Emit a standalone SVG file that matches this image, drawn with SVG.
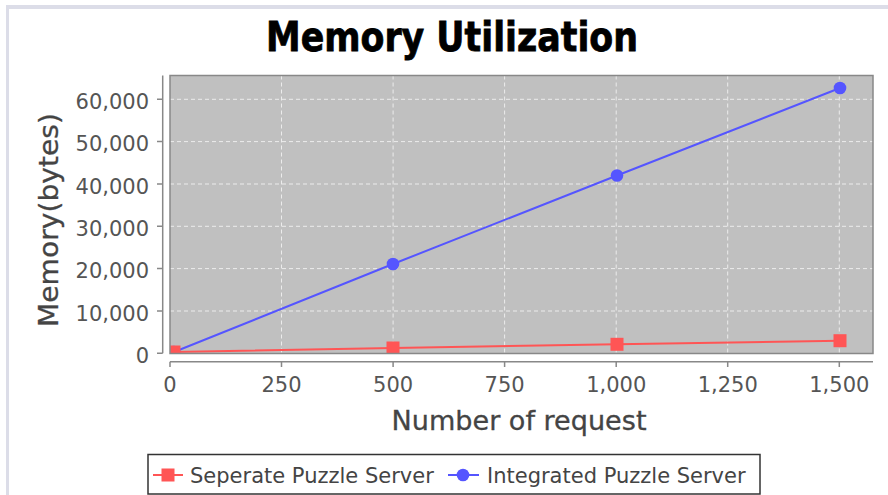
<svg xmlns="http://www.w3.org/2000/svg" width="888" height="495" viewBox="0 0 888 495">
  <style>
    .tick { font-family: "DejaVu Sans", Verdana, sans-serif; font-size: 21px; fill: #555555; }
    .axlabel { font-family: "DejaVu Sans", Verdana, sans-serif; font-size: 26px; fill: #444444; stroke: #444444; stroke-width: 0.3; }
    .legend { font-family: "DejaVu Sans", Verdana, sans-serif; font-size: 21px; fill: #444444; }
    .grid line { stroke: #ffffff; stroke-opacity: 0.7; stroke-width: 1; stroke-dasharray: 4 3; }
    .axis { stroke: #888888; stroke-width: 1.5; fill: none; }
    .blue { stroke: #5555ff; stroke-width: 2; fill: none; }
    .red { stroke: #ff5555; stroke-width: 2; fill: none; }
  </style>
  <defs>
    <clipPath id="plotClip">
      <rect x="170" y="75.5" width="703" height="278"/>
    </clipPath>
    <circle id="dot" r="6.3" fill="#5555ff"/>
    <rect id="sq" x="-6.5" y="-6.5" width="13" height="13" fill="#ff5555"/>
  </defs>

  <!-- page background and frame -->
  <rect x="0" y="0" width="888" height="495" fill="#ffffff"/>
  <rect x="6" y="5" width="882" height="4" fill="#dcdde8"/>
  <rect x="6" y="5" width="3" height="490" fill="#dcdde8"/>

  <!-- title -->
  <text id="title" x="266" y="50.5" font-family="DejaVu Sans, Verdana, sans-serif" font-weight="bold" font-size="40" textLength="372" lengthAdjust="spacingAndGlyphs" fill="#000000" stroke="#000000" stroke-width="0.8">Memory Utilization</text>

  <!-- plot area -->
  <g id="plot">
    <rect x="170" y="75.5" width="703" height="278" fill="#c0c0c0"/>
    <g class="grid">
      <line x1="281.5" y1="75.5" x2="281.5" y2="353.3"/>
      <line x1="393.1" y1="75.5" x2="393.1" y2="353.3"/>
      <line x1="504.6" y1="75.5" x2="504.6" y2="353.3"/>
      <line x1="616.2" y1="75.5" x2="616.2" y2="353.3"/>
      <line x1="727.7" y1="75.5" x2="727.7" y2="353.3"/>
      <line x1="839.3" y1="75.5" x2="839.3" y2="353.3"/>
      <line x1="170" y1="311" x2="873" y2="311"/>
      <line x1="170" y1="268.6" x2="873" y2="268.6"/>
      <line x1="170" y1="226.3" x2="873" y2="226.3"/>
      <line x1="170" y1="184" x2="873" y2="184"/>
      <line x1="170" y1="141.6" x2="873" y2="141.6"/>
      <line x1="170" y1="99.3" x2="873" y2="99.3"/>
    </g>

    <g id="series-integrated" clip-path="url(#plotClip)">
      <polyline class="blue" points="174,352 393,264 617,175.5 840,88"/>
      <use href="#dot" x="174" y="352"/>
      <use href="#dot" x="393" y="264"/>
      <use href="#dot" x="617" y="175.5"/>
      <use href="#dot" x="840" y="88"/>
    </g>
    <g id="series-separate" clip-path="url(#plotClip)">
      <polyline class="red" points="174,352 393,348 617,344.3 840,340.7"/>
      <use href="#sq" x="174" y="352"/>
      <use href="#sq" x="393" y="348"/>
      <use href="#sq" x="617" y="344.3"/>
      <use href="#sq" x="840" y="340.7"/>
    </g>

    <rect x="170" y="75.5" width="703" height="278" fill="none" stroke="#888888" stroke-width="1.5"/>
  </g>

  <!-- range axis -->
  <g id="y-axis">
    <path class="axis" d="M162.7,75.5 V353.3 M157,353.3 H162.7 M157,311 H162.7 M157,268.6 H162.7 M157,226.3 H162.7 M157,184 H162.7 M157,141.6 H162.7 M157,99.3 H162.7"/>
    <g class="tick" text-anchor="end">
      <text x="149" y="362.8">0</text>
      <text x="149" y="320.5">10,000</text>
      <text x="149" y="278.1">20,000</text>
      <text x="149" y="235.8">30,000</text>
      <text x="149" y="193.5">40,000</text>
      <text x="149" y="151.1">50,000</text>
      <text x="149" y="108.8">60,000</text>
    </g>
    <text class="axlabel" transform="translate(58,220) rotate(-90)" text-anchor="middle" textLength="214" lengthAdjust="spacingAndGlyphs">Memory(bytes)</text>
  </g>

  <!-- domain axis -->
  <g id="x-axis">
    <path class="axis" d="M170,361.7 H873 M170,361.7 V367 M281.5,361.7 V367 M393.1,361.7 V367 M504.6,361.7 V367 M616.2,361.7 V367 M727.7,361.7 V367 M839.3,361.7 V367"/>
    <g class="tick" text-anchor="middle">
      <text x="170" y="391.5">0</text>
      <text x="281.5" y="391.5">250</text>
      <text x="393.1" y="391.5">500</text>
      <text x="504.6" y="391.5">750</text>
      <text x="616.2" y="391.5">1,000</text>
      <text x="727.7" y="391.5">1,250</text>
      <text x="839.3" y="391.5">1,500</text>
    </g>
    <text class="axlabel" x="519" y="430" text-anchor="middle" textLength="255" lengthAdjust="spacingAndGlyphs">Number of request</text>
  </g>

  <!-- legend -->
  <g id="legend">
    <rect x="148" y="454.5" width="612" height="39.5" fill="#ffffff" stroke="#333333" stroke-width="1.5"/>
    <g id="legend-separate">
      <line class="red" x1="153" y1="475" x2="183" y2="475"/>
      <use href="#sq" x="168" y="475"/>
      <text class="legend" x="190" y="482.5">Seperate Puzzle Server</text>
    </g>
    <g id="legend-integrated">
      <line class="blue" x1="448" y1="475" x2="479" y2="475"/>
      <use href="#dot" x="463" y="475"/>
      <text class="legend" x="487" y="482.5">Integrated Puzzle Server</text>
    </g>
  </g>
</svg>
